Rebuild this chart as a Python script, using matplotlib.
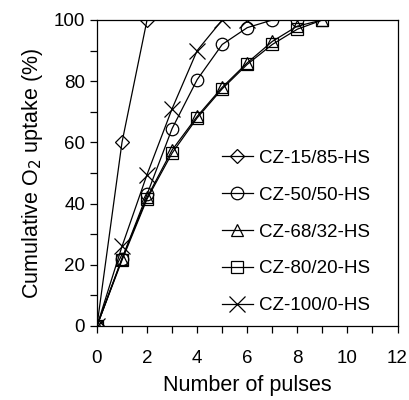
import numpy as np
import matplotlib
matplotlib.use("Agg")
import matplotlib.pyplot as plt
from matplotlib.ticker import MultipleLocator

plt.rcParams['font.family'] = ['Liberation Sans', 'DejaVu Sans']

# pulse numbers and cumulative uptake (%) for each sample
pulses_15 = [0, 1, 2]
uptake_15 = [0, 60, 100]

pulses_50 = [0, 1, 2, 3, 4, 5, 6, 7, 8]
uptake_50 = [0, 22, 43, 64.5, 80.5, 92, 97.5, 100, 100]

pulses_68 = [0, 1, 2, 3, 4, 5, 6, 7, 8, 9]
uptake_68 = [0, 22, 42, 57.5, 68.5, 78, 86, 93, 98, 100]

pulses_80 = [0, 1, 2, 3, 4, 5, 6, 7, 8, 9]
uptake_80 = [0, 21.5, 41.5, 56.5, 68, 77.5, 85.5, 92, 97, 100]

pulses_100 = [0, 1, 2, 3, 4, 5, 6]
uptake_100 = [0, 26, 49.5, 71, 90, 100, 100]

labels = ['CZ-15/85-HS', 'CZ-50/50-HS', 'CZ-68/32-HS', 'CZ-80/20-HS', 'CZ-100/0-HS']
markers = ['D', 'o', '^', 's', 'x']
sizes = [7, 9, 9, 9, 11]

fig = plt.figure(figsize=(4.09, 4.0), dpi=100)
ax = fig.add_axes([0.237, 0.185, 0.735, 0.765])

series = [(pulses_15, uptake_15), (pulses_50, uptake_50), (pulses_68, uptake_68),
          (pulses_80, uptake_80), (pulses_100, uptake_100)]
for (x, y), lab, m, ms in zip(series, labels, markers, sizes):
    ax.plot(x, y, color='black', lw=0.9, marker=m, ms=ms,
            mfc='none', mec='black', mew=0.9, label=lab)

ax.set_xlim(0, 12)
ax.set_ylim(0, 100)
ax.xaxis.set_major_locator(MultipleLocator(2))
ax.xaxis.set_minor_locator(MultipleLocator(1))
ax.yaxis.set_major_locator(MultipleLocator(20))
ax.yaxis.set_minor_locator(MultipleLocator(10))
ax.tick_params(which='both', direction='out', length=5, width=0.9, labelsize=13.5)
ax.tick_params(axis='x', pad=12)
for s in ax.spines.values():
    s.set_linewidth(0.9)

ax.set_xlabel('Number of pulses', fontsize=15.5, labelpad=6)
ax.set_ylabel('Cumulative O$_2$ uptake (%)', fontsize=15.5, labelpad=6)

ax.legend(loc='center left', bbox_to_anchor=(0.415, 0.307), frameon=False,
          fontsize=13.5, handlelength=1.65, handletextpad=0.35, labelspacing=1.05,
          borderpad=0, borderaxespad=0)

fig.savefig('out.png', dpi=100)
